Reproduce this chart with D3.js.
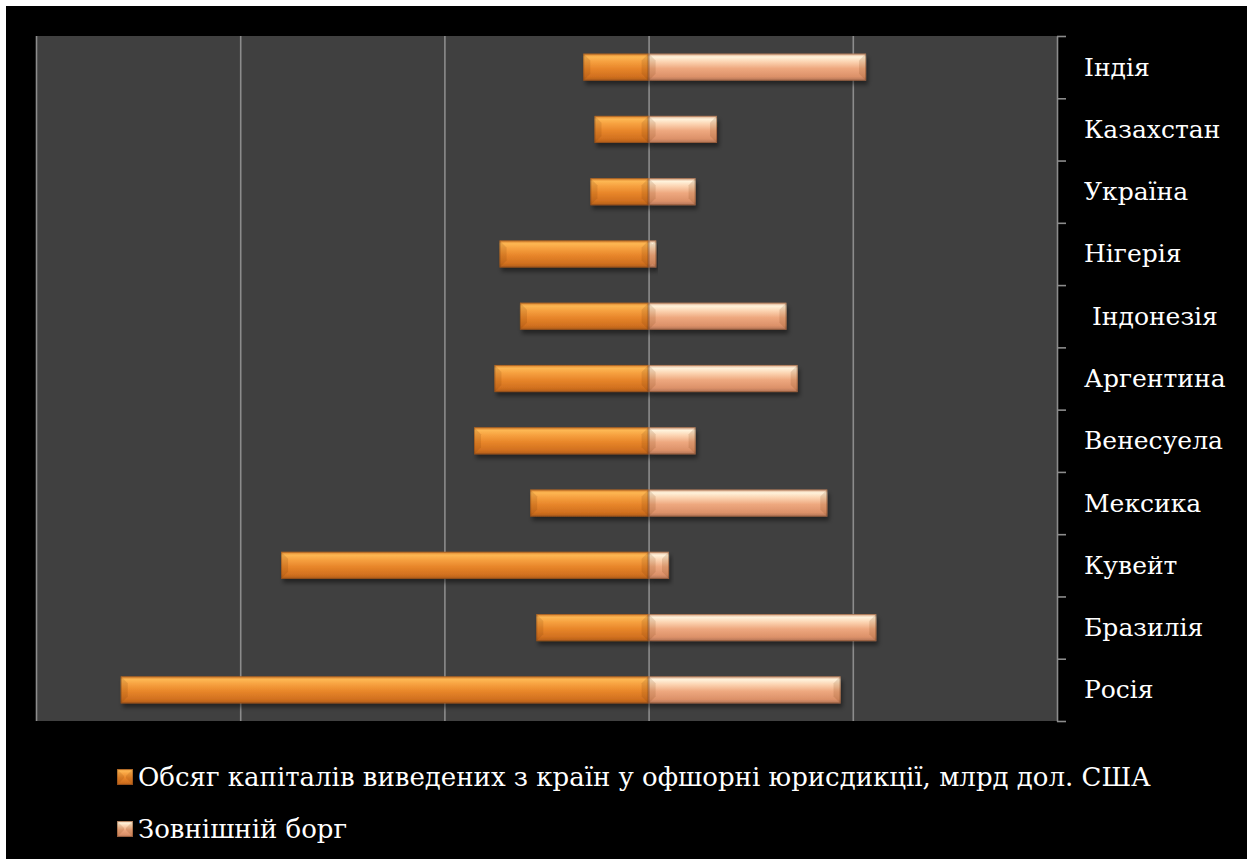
<!DOCTYPE html>
<html>
<head>
<meta charset="utf-8">
<script src="https://cdn.jsdelivr.net/npm/d3@7/dist/d3.min.js"></script>
<style>
  html, body { margin: 0; padding: 0; background: #ffffff; }
  svg { display: block; }
</style>
</head>
<body>
<svg id="chart" width="1251" height="859"></svg>
<script>
// Countries, top to bottom
const countries = ["Індія", "Казахстан", "Україна", "Нігерія", " Індонезія", "Аргентина",
  "Венесуела", "Мексика", "Кувейт", "Бразилія", "Росія"];
// Capital moved offshore (drawn to the left of zero)
const offshore = [-64, -53, -57, -146, -126, -151, -171, -116, -360, -110, -517];
// External debt
const externalDebt = [213, 67, 46, 7.5, 135, 146, 46, 175, 20, 223, 188];
const xTicks = [-600, -400, -200, 0, 200, 400];
const seriesNames = ["Обсяг капіталів виведених з країн у офшорні юрисдикції, млрд дол. США", "Зовнішній борг"];

const FONT = "'DejaVu Serif', serif";
const svg = d3.select("#chart");
const plot = { left: 36, right: 1057, top: 36, bottom: 721 };

// frame
svg.append("rect").attr("x", 6).attr("y", 6).attr("width", 1241).attr("height", 853).attr("fill", "#000");

const x = d3.scaleLinear().domain([-600, 400]).range([plot.left, plot.right]);
const y = d3.scaleBand().domain(countries).range([plot.top, plot.bottom]).paddingInner(0.565).paddingOuter(0.2825);
const yEdge = d3.scaleLinear().domain([0, countries.length]).range([plot.top, plot.bottom]);

const defs = svg.append("defs");
function grad(id, stops) {
  const g = defs.append("linearGradient").attr("id", id).attr("x1", 0).attr("y1", 0).attr("x2", 0).attr("y2", 1);
  stops.forEach(s => g.append("stop").attr("offset", s[0]).attr("stop-color", s[1]));
}
grad("gOrange", [[0, "#d67c28"], [0.12, "#fdb753"], [0.3, "#f6a03f"], [0.55, "#e8862a"], [0.85, "#d1701f"], [1, "#b05d1a"]]);
grad("gLight", [[0, "#d9a07e"], [0.12, "#fff3dc"], [0.3, "#fcd4b2"], [0.55, "#eea87f"], [0.85, "#dc9169"], [1, "#b07356"]]);
const f = defs.append("filter").attr("id", "shadow").attr("x", "-10%").attr("y", "-30%").attr("width", "130%").attr("height", "180%");
f.append("feDropShadow").attr("dx", 2).attr("dy", 4).attr("stdDeviation", 2).attr("flood-color", "#000").attr("flood-opacity", 0.45);

// plot background
svg.append("rect").attr("x", plot.left).attr("y", plot.top)
  .attr("width", plot.right - plot.left).attr("height", plot.bottom - plot.top).attr("fill", "#404040");

// vertical gridlines
svg.append("g").attr("transform", `translate(0,${plot.bottom})`)
  .call(d3.axisBottom(x).tickValues(xTicks.slice(0, -1)).tickSize(-(plot.bottom - plot.top)).tickFormat(""))
  .call(g => g.select(".domain").remove())
  .call(g => g.selectAll("line").attr("stroke", "#8c8c8c").attr("stroke-width", 1.6));

// right category axis with ticks on band boundaries
svg.append("g").attr("transform", `translate(${plot.right},0)`)
  .call(d3.axisRight(yEdge).tickValues(d3.range(countries.length + 1)).tickSize(9).tickSizeOuter(0).tickFormat(""))
  .call(g => g.select(".domain").attr("stroke", "#8c8c8c").attr("stroke-width", 1.6))
  .call(g => g.selectAll("line").attr("stroke", "#8c8c8c").attr("stroke-width", 1.6));

// category labels
svg.append("g").selectAll("text").data(countries).join("text")
  .attr("x", 1084).attr("y", d => y(d) + y.bandwidth() / 2)
  .attr("dominant-baseline", "central")
  .attr("font-family", FONT).attr("fill", "#fff")
  .style("white-space", "pre")
  .attr("font-size", 25)
  .text(d => d);

// beveled bar
function bevelBar(g, x0, x1, y0, h, fillId) {
  const w = x1 - x0;
  const b = Math.min(7, w / 2, h / 2);
  const grp = g.append("g");
  grp.append("rect").attr("x", x0).attr("y", y0).attr("width", w).attr("height", h)
    .attr("fill", `url(#${fillId})`).attr("filter", "url(#shadow)");
  const y1 = y0 + h;
  const pts = (arr) => arr.map(p => p.join(",")).join(" ");
  // end bevels
  grp.append("polygon").attr("points", pts([[x0, y0], [x0 + b, y0 + b], [x0 + b, y1 - b], [x0, y1]]))
    .attr("fill", "#6a3000").attr("opacity", 0.14);
  grp.append("polygon").attr("points", pts([[x1, y0], [x1 - b, y0 + b], [x1 - b, y1 - b], [x1, y1]]))
    .attr("fill", "#6a3000").attr("opacity", 0.14);
  // thin outline
  grp.append("rect").attr("x", x0 + 0.5).attr("y", y0 + 0.5).attr("width", Math.max(0, w - 1)).attr("height", h - 1)
    .attr("fill", "none").attr("stroke", "#6a3a1a").attr("stroke-opacity", 0.4).attr("stroke-width", 1);
}

const bars = svg.append("g");
countries.forEach((c, i) => {
  bevelBar(bars, x(offshore[i]), x(0), y(c), y.bandwidth(), "gOrange");
});
countries.forEach((c, i) => {
  bevelBar(bars, x(0), x(externalDebt[i]), y(c), y.bandwidth(), "gLight");
});

// legend
const legend = svg.append("g");
const legendFills = ["gOrange", "gLight"];
seriesNames.forEach((name, i) => {
  const cy = 777 + i * 52;
  bevelBar(legend.append("g"), 117, 133, cy - 8, 16, legendFills[i]);
  legend.append("text").attr("x", 138).attr("y", cy).attr("dominant-baseline", "central")
    .attr("font-family", FONT).attr("fill", "#fff")
    .attr("font-size", 26).text(name);
});
</script>
</body>
</html>
